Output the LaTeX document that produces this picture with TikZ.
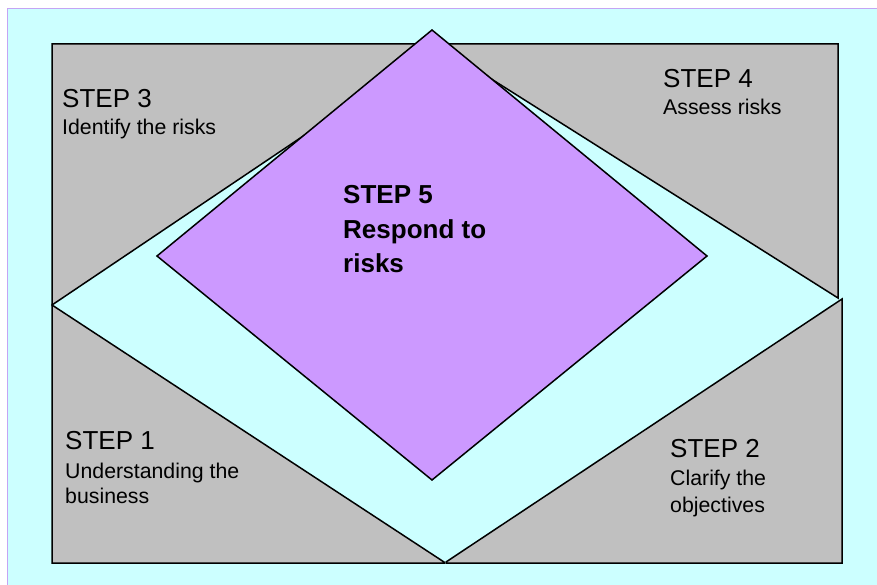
\documentclass[tikz,border=0pt]{standalone}
\usepackage{fontspec}
\setmainfont{Liberation Sans}
\definecolor{bgcyan}{HTML}{CCFFFF}
\definecolor{boxgray}{HTML}{C0C0C0}
\definecolor{diapurple}{HTML}{CC99FF}
\definecolor{bordpurple}{HTML}{C4A4F4}
\begin{document}
\begin{tikzpicture}[x=1pt,y=-1pt,
  region/.style={fill=boxgray,draw=black,line width=1.5pt,line join=miter},
  title/.style={anchor=base west,inner sep=0pt,font=\fontsize{26}{30}\selectfont},
  body/.style={anchor=base west,inner sep=0pt,font=\fontsize{21.3}{26}\selectfont},
  bigbold/.style={anchor=base west,inner sep=0pt,font=\fontsize{26}{30}\selectfont\bfseries}]
\useasboundingbox (0,0) rectangle (877,585);
% background
\fill[white] (0,0) rectangle (877,585);
\draw[fill=bgcyan,draw=bordpurple,line width=1pt] (7,9) rectangle (890,600);
% four grey triangles
\draw[region] (52,44) -- (440,44) -- (52,305) -- cycle;
\draw[region] (838,44) -- (436,44) -- (838,298) -- cycle;
\draw[region] (52,305) -- (444,562) -- (444,563) -- (52,563) -- cycle;
\draw[region] (842,299) -- (842,563) -- (446,563) -- (446,562) -- cycle;
% central diamond
\draw[fill=diapurple,draw=black,line width=1.5pt] (432,30) -- (707,256) -- (432,480) -- (157,256) -- cycle;
% texts
\node[title] (s3) at (62,108) {STEP 3};
\node[body] (s3b) at (62,135) {Identify the risks};
\node[title] (s4) at (663,88) {STEP 4};
\node[body] (s4b) at (663,115) {Assess risks};
\node[bigbold] (s5) at (343,204) {STEP 5};
\node[bigbold] (s5b) at (343,238) {Respond to};
\node[bigbold] (s5c) at (343,272) {risks};
\node[title] (s1) at (65,449) {STEP 1};
\node[body] (s1b) at (65,478) {Understanding the};
\node[body] (s1c) at (65,503) {business};
\node[title] (s2) at (670,457) {STEP 2};
\node[body] (s2b) at (670,485) {Clarify the};
\node[body] (s2c) at (670,512) {objectives};
\end{tikzpicture}
\end{document}
